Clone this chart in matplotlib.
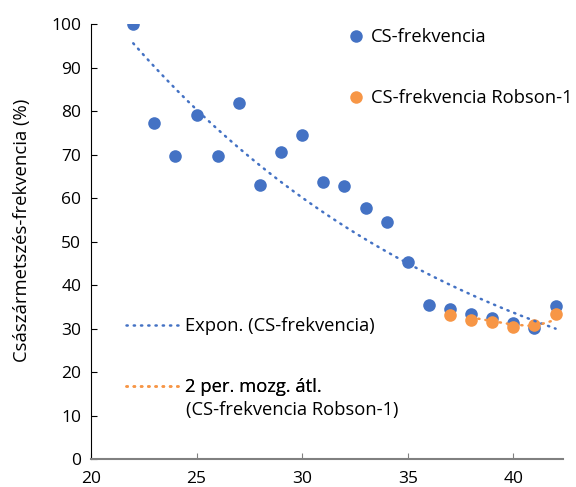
import matplotlib.pyplot as plt
from matplotlib.lines import Line2D
import numpy as np

plt.rcParams['font.family'] = ['Open Sans', 'DejaVu Sans']
plt.rcParams['font.size'] = 12.5

blue = '#4472C4'
orange = '#F79646'

# gestational week vs. caesarean section rate (%)
weeks = np.arange(22, 43)
cs_rate = [100.0, 77.3, 69.6, 79.2, 69.6, 81.9, 62.9, 70.5, 74.4, 63.6, 62.7,
           57.7, 54.5, 45.3, 35.4, 34.5, 33.3, 32.5, 31.3, 30.1, 35.2]
robson_weeks = np.arange(37, 43)
robson_rate = [33.1, 32.0, 31.4, 30.4, 30.7, 33.3]

# exponential trendline (like Excel's "Expon.")
b, a = np.polyfit(weeks, np.log(cs_rate), 1)
trend_x = np.linspace(22, 42, 200)
trend_y = np.exp(a + b * trend_x)

# 2 period moving average
ma_x = robson_weeks[1:]
ma_y = [(robson_rate[i] + robson_rate[i - 1]) / 2 for i in range(1, len(robson_rate))]

fig = plt.figure(figsize=(5.76, 4.87), dpi=100)
ax = fig.add_axes([0.158, 0.0575, 0.819, 0.893])

ax.scatter(weeks, cs_rate, s=82, color=blue, zorder=3, linewidths=0)
ax.scatter(robson_weeks, robson_rate, s=82, color=orange, zorder=4, linewidths=0)
dots = (0, (0.5, 2.4))
ax.plot(trend_x, trend_y, color=blue, lw=1.8, ls=dots, dash_capstyle='round', zorder=5)
ax.plot(ma_x, ma_y, color=orange, lw=1.8, ls=dots, dash_capstyle='round', zorder=6)

ax.set_xlim(20, 42.34)
ax.set_ylim(0, 100)
ax.set_xticks([20, 25, 30, 35, 40])
ax.set_yticks(np.arange(0, 101, 10))
ax.tick_params(direction='in', length=4, width=0.8, labelsize=12.5)
ax.tick_params(axis='y', pad=7)
ax.tick_params(axis='x', colors='#808080', labelcolor='black', pad=9)
ax.spines['top'].set_visible(False)
ax.spines['right'].set_visible(False)
ax.spines['left'].set_linewidth(0.8)
ax.spines['bottom'].set_color('#808080')
ax.spines['bottom'].set_linewidth(1.5)
ax.set_ylabel('Császármetszés-frekvencia (%)', fontsize=13.3)
ax.yaxis.set_label_coords(-0.128, 0.526)


def legend_entry(handle, label, x, y, hlen):
    leg = ax.legend([handle], [label], loc='center left', bbox_to_anchor=(x / 576, 1 - y / 487),
                    bbox_transform=fig.transFigure, frameon=False, borderpad=0,
                    borderaxespad=0, handlelength=hlen, handletextpad=0.3, fontsize=13.2)
    ax.add_artist(leg)


mk = dict(marker='o', ls='none', markersize=9, markeredgewidth=0)
legend_entry(Line2D([], [], color=blue, **mk), 'CS-frekvencia', 347, 37, 1.0)
legend_entry(Line2D([], [], color=orange, **mk), 'CS-frekvencia Robson-1', 347, 98, 1.0)
legend_entry(Line2D([], [], color=blue, lw=1.8, ls=dots, dash_capstyle='round'),
             'Expon. (CS-frekvencia)', 126, 326, 2.9)
legend_entry(Line2D([], [], color=orange, lw=1.8, ls=dots, dash_capstyle='round'),
             '2 per. mozg. átl.', 126, 387, 2.9)
fig.text(186 / 576, 1 - 410 / 487, '(CS-frekvencia Robson-1)', fontsize=13.2, va='center')

fig.savefig('out.png', dpi=100)
